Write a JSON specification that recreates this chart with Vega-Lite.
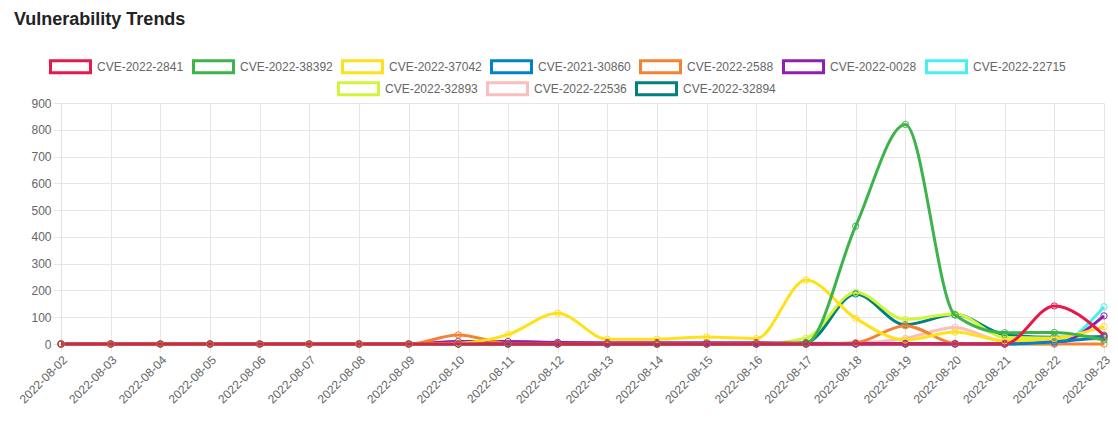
{
  "$schema": "https://vega.github.io/schema/vega-lite/v6.json",
  "width": 1043,
  "height": 241,
  "autosize": {"type": "none"},
  "padding": {"left": 61, "top": 103, "right": 14, "bottom": 84},
  "title": {"text": "Vulnerability Trends", "anchor": "start", "frame": "group", "dx": -47, "dy": -12, "fontSize": 18, "font": "Liberation Sans", "fontWeight": "bold", "color": "#222"},
  "data": {"values": [
    {"date": "2022-08-02", "CVE-2022-2841": 0, "CVE-2022-38392": 0, "CVE-2022-37042": 0, "CVE-2021-30860": 0, "CVE-2022-2588": 0, "CVE-2022-0028": 0, "CVE-2022-22715": 0, "CVE-2022-32893": 0, "CVE-2022-22536": 0, "CVE-2022-32894": 0},
    {"date": "2022-08-03", "CVE-2022-2841": 0, "CVE-2022-38392": 0, "CVE-2022-37042": 0, "CVE-2021-30860": 0, "CVE-2022-2588": 0, "CVE-2022-0028": 0, "CVE-2022-22715": 0, "CVE-2022-32893": 0, "CVE-2022-22536": 0, "CVE-2022-32894": 0},
    {"date": "2022-08-04", "CVE-2022-2841": 0, "CVE-2022-38392": 0, "CVE-2022-37042": 0, "CVE-2021-30860": 0, "CVE-2022-2588": 0, "CVE-2022-0028": 0, "CVE-2022-22715": 0, "CVE-2022-32893": 0, "CVE-2022-22536": 0, "CVE-2022-32894": 0},
    {"date": "2022-08-05", "CVE-2022-2841": 0, "CVE-2022-38392": 0, "CVE-2022-37042": 0, "CVE-2021-30860": 0, "CVE-2022-2588": 0, "CVE-2022-0028": 0, "CVE-2022-22715": 0, "CVE-2022-32893": 0, "CVE-2022-22536": 0, "CVE-2022-32894": 0},
    {"date": "2022-08-06", "CVE-2022-2841": 0, "CVE-2022-38392": 0, "CVE-2022-37042": 0, "CVE-2021-30860": 0, "CVE-2022-2588": 0, "CVE-2022-0028": 0, "CVE-2022-22715": 0, "CVE-2022-32893": 0, "CVE-2022-22536": 0, "CVE-2022-32894": 0},
    {"date": "2022-08-07", "CVE-2022-2841": 0, "CVE-2022-38392": 0, "CVE-2022-37042": 0, "CVE-2021-30860": 0, "CVE-2022-2588": 0, "CVE-2022-0028": 0, "CVE-2022-22715": 0, "CVE-2022-32893": 0, "CVE-2022-22536": 0, "CVE-2022-32894": 0},
    {"date": "2022-08-08", "CVE-2022-2841": 0, "CVE-2022-38392": 0, "CVE-2022-37042": 0, "CVE-2021-30860": 0, "CVE-2022-2588": 0, "CVE-2022-0028": 0, "CVE-2022-22715": 0, "CVE-2022-32893": 0, "CVE-2022-22536": 0, "CVE-2022-32894": 0},
    {"date": "2022-08-09", "CVE-2022-2841": 0, "CVE-2022-38392": 0, "CVE-2022-37042": 0, "CVE-2021-30860": 0, "CVE-2022-2588": 0, "CVE-2022-0028": 0, "CVE-2022-22715": 0, "CVE-2022-32893": 0, "CVE-2022-22536": 0, "CVE-2022-32894": 0},
    {"date": "2022-08-10", "CVE-2022-2841": 0, "CVE-2022-38392": 0, "CVE-2022-37042": 3, "CVE-2021-30860": 0, "CVE-2022-2588": 34, "CVE-2022-0028": 9, "CVE-2022-22715": 0, "CVE-2022-32893": 0, "CVE-2022-22536": 0, "CVE-2022-32894": 0},
    {"date": "2022-08-11", "CVE-2022-2841": 0, "CVE-2022-38392": 0, "CVE-2022-37042": 35, "CVE-2021-30860": 0, "CVE-2022-2588": 2, "CVE-2022-0028": 9, "CVE-2022-22715": 0, "CVE-2022-32893": 0, "CVE-2022-22536": 0, "CVE-2022-32894": 0},
    {"date": "2022-08-12", "CVE-2022-2841": 0, "CVE-2022-38392": 0, "CVE-2022-37042": 115, "CVE-2021-30860": 0, "CVE-2022-2588": 0, "CVE-2022-0028": 6, "CVE-2022-22715": 0, "CVE-2022-32893": 0, "CVE-2022-22536": 0, "CVE-2022-32894": 0},
    {"date": "2022-08-13", "CVE-2022-2841": 0, "CVE-2022-38392": 0, "CVE-2022-37042": 18, "CVE-2021-30860": 0, "CVE-2022-2588": 0, "CVE-2022-0028": 5, "CVE-2022-22715": 0, "CVE-2022-32893": 0, "CVE-2022-22536": 0, "CVE-2022-32894": 0},
    {"date": "2022-08-14", "CVE-2022-2841": 0, "CVE-2022-38392": 0, "CVE-2022-37042": 18, "CVE-2021-30860": 0, "CVE-2022-2588": 0, "CVE-2022-0028": 5, "CVE-2022-22715": 0, "CVE-2022-32893": 0, "CVE-2022-22536": 0, "CVE-2022-32894": 0},
    {"date": "2022-08-15", "CVE-2022-2841": 0, "CVE-2022-38392": 0, "CVE-2022-37042": 26, "CVE-2021-30860": 0, "CVE-2022-2588": 0, "CVE-2022-0028": 5, "CVE-2022-22715": 0, "CVE-2022-32893": 0, "CVE-2022-22536": 0, "CVE-2022-32894": 0},
    {"date": "2022-08-16", "CVE-2022-2841": 0, "CVE-2022-38392": 0, "CVE-2022-37042": 20, "CVE-2021-30860": 0, "CVE-2022-2588": 0, "CVE-2022-0028": 5, "CVE-2022-22715": 0, "CVE-2022-32893": 0, "CVE-2022-22536": 0, "CVE-2022-32894": 0},
    {"date": "2022-08-17", "CVE-2022-2841": 0, "CVE-2022-38392": 3, "CVE-2022-37042": 239, "CVE-2021-30860": 0, "CVE-2022-2588": 0, "CVE-2022-0028": 3, "CVE-2022-22715": 0, "CVE-2022-32893": 22, "CVE-2022-22536": 0, "CVE-2022-32894": 5},
    {"date": "2022-08-18", "CVE-2022-2841": 0, "CVE-2022-38392": 440, "CVE-2022-37042": 96, "CVE-2021-30860": 0, "CVE-2022-2588": 5, "CVE-2022-0028": 2, "CVE-2022-22715": 0, "CVE-2022-32893": 193, "CVE-2022-22536": 3, "CVE-2022-32894": 187},
    {"date": "2022-08-19", "CVE-2022-2841": 0, "CVE-2022-38392": 820, "CVE-2022-37042": 15, "CVE-2021-30860": 0, "CVE-2022-2588": 68, "CVE-2022-0028": 2, "CVE-2022-22715": 0, "CVE-2022-32893": 92, "CVE-2022-22536": 21, "CVE-2022-32894": 72},
    {"date": "2022-08-20", "CVE-2022-2841": 0, "CVE-2022-38392": 108, "CVE-2022-37042": 45, "CVE-2021-30860": 0, "CVE-2022-2588": 3, "CVE-2022-0028": 2, "CVE-2022-22715": 0, "CVE-2022-32893": 112, "CVE-2022-22536": 62, "CVE-2022-32894": 110},
    {"date": "2022-08-21", "CVE-2022-2841": 0, "CVE-2022-38392": 42, "CVE-2022-37042": 12, "CVE-2021-30860": 0, "CVE-2022-2588": 0, "CVE-2022-0028": 2, "CVE-2022-22715": 0, "CVE-2022-32893": 25, "CVE-2022-22536": 10, "CVE-2022-32894": 35},
    {"date": "2022-08-22", "CVE-2022-2841": 142, "CVE-2022-38392": 43, "CVE-2022-37042": 21, "CVE-2021-30860": 8, "CVE-2022-2588": 0, "CVE-2022-0028": 2, "CVE-2022-22715": 0, "CVE-2022-32893": 22, "CVE-2022-22536": 15, "CVE-2022-32894": 25},
    {"date": "2022-08-23", "CVE-2022-2841": 33, "CVE-2022-38392": 15, "CVE-2022-37042": 65, "CVE-2021-30860": 25, "CVE-2022-2588": 0, "CVE-2022-0028": 105, "CVE-2022-22715": 139, "CVE-2022-32893": 20, "CVE-2022-22536": 20, "CVE-2022-32894": 28}
  ]},
  "transform": [
    {"fold": ["CVE-2022-32894", "CVE-2022-22536", "CVE-2022-32893", "CVE-2022-22715", "CVE-2022-0028", "CVE-2022-2588", "CVE-2021-30860", "CVE-2022-37042", "CVE-2022-38392", "CVE-2022-2841"], "as": ["cve", "count"]}
  ],
  "encoding": {
    "x": {"field": "date", "type": "ordinal", "sort": null, "scale": {"type": "point", "padding": 0},
      "axis": {"title": null, "grid": true, "labelAngle": -45, "labelAlign": "right", "labelBaseline": "top", "labelOverlap": false, "tickSize": 8, "labelPadding": 2, "domainColor": "#c8c8c8"}},
    "y": {"field": "count", "type": "quantitative", "scale": {"domain": [0, 900], "nice": false},
      "axis": {"title": null, "values": [0, 100, 200, 300, 400, 500, 600, 700, 800, 900], "tickSize": 8, "labelPadding": 2, "domainColor": "#e0e0e0"}}
  },
  "layer": [
    {
      "transform": [{"filter": {"field": "cve", "oneOf": ["CVE-2022-32893", "CVE-2022-22536", "CVE-2022-32894"]}}],
      "mark": {"type": "line", "interpolate": "monotone", "strokeWidth": 3, "point": {"filled": false, "size": 40, "strokeWidth": 1}},
      "encoding": {
        "color": {"field": "cve", "type": "nominal",
          "scale": {"domain": ["CVE-2022-32893", "CVE-2022-22536", "CVE-2022-32894"], "range": ["#d2f53c", "#fabebe", "#008080"]},
          "legend": {"legendX": 276, "legendY": -36}}
      }
    },
    {
      "transform": [{"filter": {"field": "cve", "oneOf": ["CVE-2022-2841", "CVE-2022-38392", "CVE-2022-37042", "CVE-2021-30860", "CVE-2022-2588", "CVE-2022-0028", "CVE-2022-22715"]}}],
      "mark": {"type": "line", "interpolate": "monotone", "strokeWidth": 3, "point": {"filled": false, "size": 40, "strokeWidth": 1}},
      "encoding": {
        "color": {"field": "cve", "type": "nominal",
          "scale": {"domain": ["CVE-2022-2841", "CVE-2022-38392", "CVE-2022-37042", "CVE-2021-30860", "CVE-2022-2588", "CVE-2022-0028", "CVE-2022-22715"], "range": ["#e6194b", "#3cb44b", "#ffe119", "#0082c8", "#f58231", "#911eb4", "#46f0f0"]},
          "legend": {"legendX": -12, "legendY": -58}}
      }
    }
  ],
  "resolve": {"scale": {"color": "independent"}},
  "config": {
    "view": {"stroke": null},
    "font": "Liberation Sans",
    "axis": {"labelFont": "Liberation Sans", "labelFontSize": 12, "labelColor": "#666", "gridColor": "#e6e6e6", "tickColor": "#e6e6e6"},
    "legend": {"orient": "none", "direction": "horizontal", "title": null, "padding": 0, "symbolType": "M-1,-0.3H1V0.3H-1Z", "symbolSize": 1600, "symbolStrokeWidth": 3, "symbolFillColor": "transparent", "labelFont": "Liberation Sans", "labelFontSize": 12, "labelColor": "#666", "columnPadding": 3, "labelOffset": 5}
  }
}
